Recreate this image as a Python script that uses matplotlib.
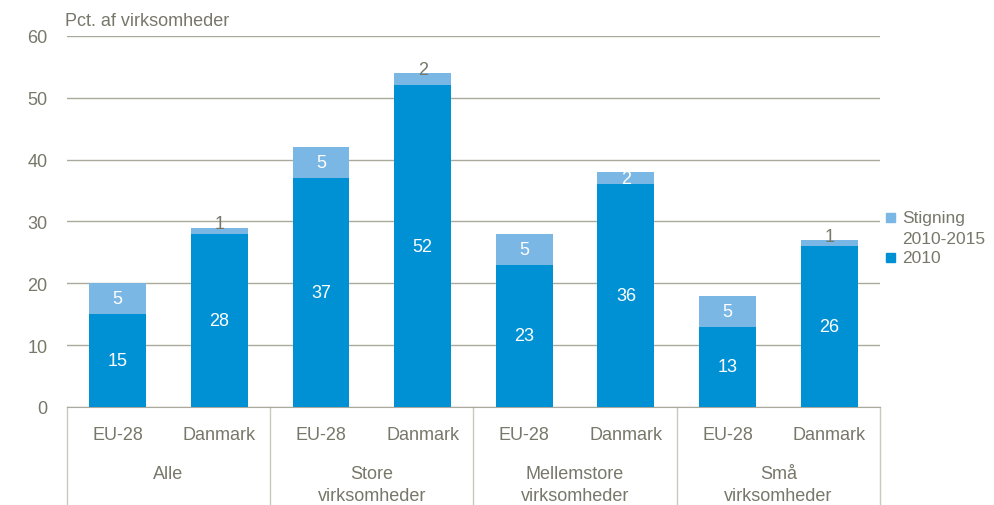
import matplotlib
matplotlib.use("Agg")
import matplotlib.pyplot as plt
from matplotlib.patches import Rectangle
import numpy as np

groups = ["Alle", "Store\nvirksomheder", "Mellemstore\nvirksomheder", "Små\nvirksomheder"]
regions = ["EU-28", "Danmark"]
base_2010 = [15, 28, 37, 52, 23, 36, 13, 26]
increase = [5, 1, 5, 2, 5, 2, 5, 1]
legend_labels = ["Stigning\n2010-2015", "2010"]

dark_blue = "#0091d5"
light_blue = "#7ab7e5"
txt_grey = "#77776a"
grid_grey = "#aaa99b"

matplotlib.rcParams.update({
    'font.family': ['Liberation Sans', 'DejaVu Sans'],
    'font.size': 13,
    'text.color': txt_grey,
})

W, H = 995, 506
fig = plt.figure(figsize=(W / 100, H / 100), dpi=100)
ax = fig.add_axes([0.0673, 0.1937, 0.8171, 0.7333])

x = np.arange(len(base_2010))
w = 0.56
ax.bar(x, base_2010, w, color=dark_blue, zorder=3)
ax.bar(x, increase, w, bottom=base_2010, color=light_blue, zorder=3)

for i in x:
    ax.text(i, base_2010[i] / 2, str(base_2010[i]), ha='center', va='center', color='white', zorder=4)
    inc = increase[i]
    top = base_2010[i] + inc
    if inc >= 5 or (inc == 2 and base_2010[i] < 50):
        ax.text(i, base_2010[i] + inc / 2, str(inc), ha='center', va='center', color='white', zorder=4)
    else:
        ax.text(i, top + 0.6, str(inc), ha='center', va='center', color=txt_grey, zorder=4)

ax.set_xlim(-0.5, len(base_2010) - 0.5)
ax.set_ylim(0, 60)
ax.set_yticks(range(0, 61, 10))
ax.yaxis.grid(True, color=grid_grey, linewidth=1)
ax.set_axisbelow(True)
for s in ['top', 'right', 'left']:
    ax.spines[s].set_visible(False)
ax.spines['bottom'].set_color(grid_grey)
ax.tick_params(axis='y', length=0, pad=14, colors=txt_grey, labelsize=13)
ax.set_xticks([])

# sub category labels, group labels and separators below the axis
for i in x:
    ax.text(i, -4.5, regions[i % 2], ha='center', va='center', color=txt_grey, clip_on=False)
for g, name in enumerate(groups):
    ax.text(2 * g + 0.5, -9.4, name, ha='center', va='top', color=txt_grey,
            linespacing=1.4, clip_on=False)
for k in range(len(groups) + 1):
    ax.plot([2 * k - 0.5, 2 * k - 0.5], [0, -16], color='#c8c8bd', linewidth=1, clip_on=False)

fig.text(0.065, 0.957, "Pct. af virksomheder", ha='left', va='center', color=txt_grey, fontsize=13)

# legend, square next to the first line of each label
for (py, label, col) in [(218, legend_labels[0], light_blue), (258, legend_labels[1], dark_blue)]:
    fig.patches.append(Rectangle((886 / W, 1 - (py + 4.5) / H), 9 / W, 9 / H,
                                 transform=fig.transFigure, color=col))
    fig.text(902 / W, 1 - (py - 7) / H, label, ha='left', va='top', fontsize=12.5,
             color=txt_grey, linespacing=1.5)

fig.savefig("out.png", dpi=100)
